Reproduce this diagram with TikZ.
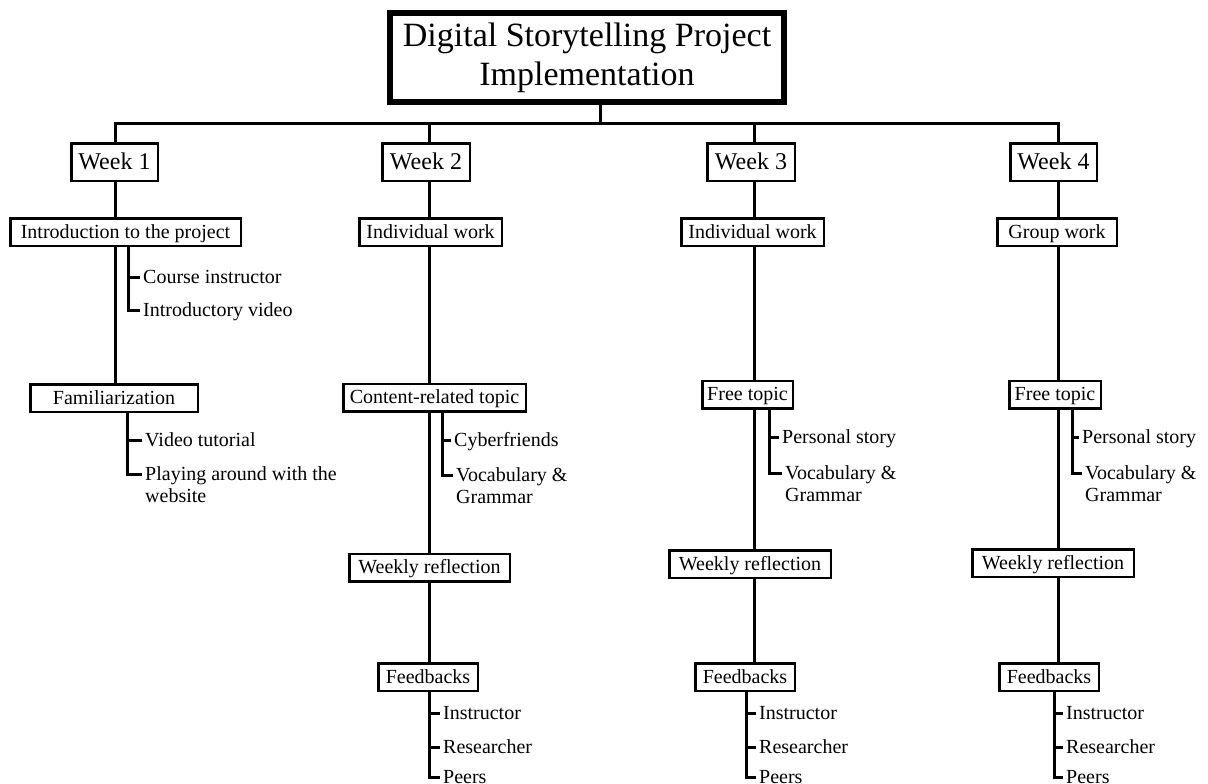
\documentclass[tikz,border=0pt]{standalone}
\usepackage{fontspec}
\setmainfont{Liberation Serif}
\newcommand\twolines[2]{\vtop{\hbox{#1}\hbox{#2}}}
\begin{document}
\begin{tikzpicture}[x=1pt,y=-1pt,
  box/.style={draw, line width=2.5pt, inner sep=0pt, minimum height=27.5pt,
    text height=15pt, text depth=3pt, font=\fontsize{20}{22}\selectfont},
  weekbox/.style={box, minimum height=37.5pt, text height=18pt, text depth=4pt,
    font=\fontsize{24}{26}\selectfont},
  titlebox/.style={draw, line width=6pt, inner sep=0pt, minimum width=394pt, minimum height=89pt,
    align=center, font=\fontsize{34}{39}\selectfont},
  item/.style={anchor=base west, inner xsep=3pt, inner ysep=0pt,
    font=\fontsize{20}{22}\selectfont},
  stem/.style={line width=3pt, line join=miter, line cap=butt},
]
\fill[white] (0,0) rectangle (1208,784);
\useasboundingbox (0,0) rectangle (1208,784);

% title
\node[titlebox] (title) at (587,57.5) {Digital Storytelling Project\\Implementation};

% bar coordinates
\coordinate (bt) at (600,123);
\coordinate (b1) at (115,123);
\coordinate (b2) at (429,123);
\coordinate (b3) at (754,123);
\coordinate (b4) at (1058,123);

% weeks
\node[weekbox, minimum width=86.5pt] (w1) at (114.5,162) {Week 1};
\node[weekbox, minimum width=87.5pt] (w2) at (426,162) {Week 2};
\node[weekbox, minimum width=87.5pt] (w3) at (751,162) {Week 3};
\node[weekbox, minimum width=86.5pt] (w4) at (1053.5,162) {Week 4};

% level 2
\node[box, minimum width=230.5pt] (intro) at (125.5,232) {Introduction to the project};
\node[box, minimum width=142.5pt] (iw2) at (430.5,232) {Individual work};
\node[box, minimum width=142.5pt] (iw3) at (752.5,232) {Individual work};
\node[box, minimum width=119.5pt] (gw4) at (1057,232) {Group work};

% level 3
\node[box, minimum width=167.5pt] (fam1) at (114,398) {Familiarization};
\node[box, minimum width=182.5pt] (ct2) at (434.5,397.5) {Content-related topic};
\node[box, minimum width=90.5pt] (ft3) at (747.5,394.5) {Free topic};
\node[box, minimum width=91.5pt] (ft4) at (1055,394.5) {Free topic};

% reflection
\node[box, minimum width=160.5pt] (wr2) at (429.5,567.5) {Weekly reflection};
\node[box, minimum width=161.5pt] (wr3) at (750,564) {Weekly reflection};
\node[box, minimum width=161.5pt] (wr4) at (1053,563) {Weekly reflection};

% feedbacks
\node[box, minimum width=99.5pt] (fb2) at (428,677) {Feedbacks};
\node[box, minimum width=99.5pt] (fb3) at (745,677) {Feedbacks};
\node[box, minimum width=99.5pt] (fb4) at (1049,677) {Feedbacks};

% items (positions are baselines)
\node[item] (i11) at (140,283) {Course instructor};
\node[item] (i12) at (140,316) {Introductory video};
\node[item] (i13) at (142,446) {Video tutorial};
\node[item] (i14) at (142,480) {\twolines{Playing around with the}{website}};

\node[item] (i21) at (451,446) {Cyberfriends};
\node[item] (i22) at (453,481) {\twolines{Vocabulary \&}{Grammar}};
\node[item] (i23) at (440,719) {Instructor};
\node[item] (i24) at (440,753) {Researcher};
\node[item] (i25) at (440,783) {Peers};

\node[item] (i31) at (779,443) {Personal story};
\node[item] (i32) at (782,479) {\twolines{Vocabulary \&}{Grammar}};
\node[item] (i33) at (756,719) {Instructor};
\node[item] (i34) at (756,753) {Researcher};
\node[item] (i35) at (756,783) {Peers};

\node[item] (i41) at (1079,443) {Personal story};
\node[item] (i42) at (1082,479) {\twolines{Vocabulary \&}{Grammar}};
\node[item] (i43) at (1063,719) {Instructor};
\node[item] (i44) at (1063,753) {Researcher};
\node[item] (i45) at (1063,783) {Peers};

% bracket x positions
\coordinate (k1) at (128,0);
\coordinate (k2) at (127,0);
\coordinate (k3) at (442,0);
\coordinate (k4) at (429,0);
\coordinate (k5) at (769,0);
\coordinate (k6) at (746,0);
\coordinate (k7) at (1072,0);
\coordinate (k8) at (1054,0);

% tree connectors
\draw[stem] (title.south -| bt) -- (bt);
\draw[stem] (w1.north -| b1) -- (b1) -- (b4) -- (w4.north -| b4);
\draw[stem] (b2) -- (w2.north -| b2);
\draw[stem] (b3) -- (w3.north -| b3);

\draw[stem] (w1.south -| b1) -- (intro.north -| b1);
\draw[stem] (intro.south -| b1) -- (fam1.north -| b1);

\draw[stem] (w2.south -| b2) -- (iw2.north -| b2);
\draw[stem] (iw2.south -| b2) -- (ct2.north -| b2);
\draw[stem] (ct2.south -| b2) -- (wr2.north -| b2);
\draw[stem] (wr2.south -| b2) -- (fb2.north -| b2);

\draw[stem] (w3.south -| b3) -- (iw3.north -| b3);
\draw[stem] (iw3.south -| b3) -- (ft3.north -| b3);
\draw[stem] (ft3.south -| b3) -- (wr3.north -| b3);
\draw[stem] (wr3.south -| b3) -- (fb3.north -| b3);

\draw[stem] (w4.south -| b4) -- (gw4.north -| b4);
\draw[stem] (gw4.south -| b4) -- (ft4.north -| b4);
\draw[stem] (ft4.south -| b4) -- (wr4.north -| b4);
\draw[stem] (wr4.south -| b4) -- (fb4.north -| b4);

% brackets (ticks sit 6pt above each item's baseline)
\tikzset{tk/.style={yshift=6pt}}
\draw[stem] (intro.south -| k1) |- ([tk]i12.base west);
\draw[stem] ([tk]i11.base west -| k1) -- ([tk]i11.base west);
\draw[stem] (fam1.south -| k2) |- ([tk]i14.base west);
\draw[stem] ([tk]i13.base west -| k2) -- ([tk]i13.base west);

\draw[stem] (ct2.south -| k3) |- ([tk]i22.base west);
\draw[stem] ([tk]i21.base west -| k3) -- ([tk]i21.base west);
\draw[stem] (fb2.south -| k4) |- ([tk]i25.base west);
\draw[stem] ([tk]i23.base west -| k4) -- ([tk]i23.base west);
\draw[stem] ([tk]i24.base west -| k4) -- ([tk]i24.base west);

\draw[stem] (ft3.south -| k5) |- ([tk]i32.base west);
\draw[stem] ([tk]i31.base west -| k5) -- ([tk]i31.base west);
\draw[stem] (fb3.south -| k6) |- ([tk]i35.base west);
\draw[stem] ([tk]i33.base west -| k6) -- ([tk]i33.base west);
\draw[stem] ([tk]i34.base west -| k6) -- ([tk]i34.base west);

\draw[stem] (ft4.south -| k7) |- ([tk]i42.base west);
\draw[stem] ([tk]i41.base west -| k7) -- ([tk]i41.base west);
\draw[stem] (fb4.south -| k8) |- ([tk]i45.base west);
\draw[stem] ([tk]i43.base west -| k8) -- ([tk]i43.base west);
\draw[stem] ([tk]i44.base west -| k8) -- ([tk]i44.base west);
\end{tikzpicture}
\end{document}
